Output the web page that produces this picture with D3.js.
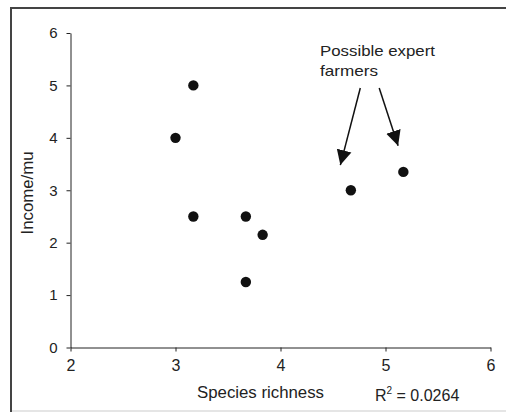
<!DOCTYPE html>
<html lang="en">
<head>
<meta charset="utf-8">
<title>Income vs species richness</title>
<script src="https://cdn.jsdelivr.net/npm/d3@7"></script>
<style>
  body { margin: 0; background: #fff; }
  svg { display: block; font-family: Arial, "Liberation Sans", sans-serif; }
  .domain, .tick line { stroke: #222; }
  .xax .tick text { font-size: 16px; fill: #222; font-family: Arial, "Liberation Sans", sans-serif; }
  .yax .tick text { font-size: 15px; fill: #222; font-family: Arial, "Liberation Sans", sans-serif; }
</style>
</head>
<body>
<script>
// data
var richness = [3.0, 3.17, 3.17, 3.67, 3.83, 3.67, 4.67, 5.17];
var income   = [4.0, 5.0, 2.5, 2.5, 2.15, 1.25, 3.0, 3.35];
var xTicks = [2, 3, 4, 5, 6];
var yTicks = [0, 1, 2, 3, 4, 5, 6];
// arrows pointing at the two "expert" farmers, in data units
var arrowFrom = [[4.76, 4.95], [4.94, 4.95]];
var arrowTo   = [[4.57, 3.48], [5.12, 3.85]];

var w = 506, h = 412;

var svg = d3.select("body").append("svg")
    .attr("width", w)
    .attr("height", h);

// outer frame (left + top dark, bottom light)
svg.append("line").attr("x1", 11).attr("y1", 8).attr("x2", 11).attr("y2", h)
    .attr("stroke", "#444").attr("stroke-width", 2);
svg.append("line").attr("x1", 10).attr("y1", 8).attr("x2", w).attr("y2", 8)
    .attr("stroke", "#444").attr("stroke-width", 2);
svg.append("line").attr("x1", 12).attr("y1", 411).attr("x2", w).attr("y2", 411)
    .attr("stroke", "#ccc").attr("stroke-width", 1.2);

var x = d3.scaleLinear().domain([2, 6]).range([70.5, 490.5]);
var y = d3.scaleLinear().domain([0, 6]).range([347.5, 33]);

svg.append("g")
    .attr("class", "xax")
    .attr("transform", "translate(0," + y(0) + ")")
    .call(d3.axisBottom(x).tickValues(xTicks).tickFormat(d3.format("d"))
        .tickSize(4).tickPadding(8).tickSizeOuter(0));

svg.append("g")
    .attr("class", "yax")
    .attr("transform", "translate(" + x(2) + ",0)")
    .call(d3.axisLeft(y).tickValues(yTicks).tickFormat(d3.format("d"))
        .tickSize(4).tickPadding(9).tickSizeOuter(0));

svg.selectAll("circle.pt")
    .data(richness)
    .enter()
    .append("circle")
    .attr("class", "pt")
    .attr("cx", d => x(d))
    .attr("cy", (d, i) => y(income[i]))
    .attr("r", 5.2)
    .attr("fill", "#111");

// axis titles
svg.append("text")
    .attr("x", 197).attr("y", 398)
    .attr("font-size", "16px").attr("fill", "#222")
    .attr("textLength", 127).attr("lengthAdjust", "spacingAndGlyphs")
    .text("Species richness");

svg.append("text")
    .attr("transform", "translate(32.5,193) rotate(-90)")
    .attr("text-anchor", "middle")
    .attr("font-size", "16px").attr("fill", "#222")
    .attr("textLength", 83).attr("lengthAdjust", "spacingAndGlyphs")
    .text("Income/mu");

var r2 = svg.append("text")
    .attr("x", 375).attr("y", 401)
    .attr("font-size", "16px").attr("fill", "#222");
r2.append("tspan").text("R");
r2.append("tspan").attr("dy", -7).attr("font-size", "10px").text("2");
r2.append("tspan").attr("dy", 7).text(" = 0.0264");

// annotation
var note = svg.append("g").attr("fill", "#222").attr("font-size", "15px");
note.append("text").attr("x", 320).attr("y", 56)
    .attr("textLength", 115).attr("lengthAdjust", "spacingAndGlyphs")
    .text("Possible expert");
note.append("text").attr("x", 320).attr("y", 76)
    .attr("textLength", 58).attr("lengthAdjust", "spacingAndGlyphs")
    .text("farmers");

svg.append("defs").append("marker")
    .attr("id", "head")
    .attr("viewBox", "0 0 10 10")
    .attr("refX", 10).attr("refY", 5)
    .attr("markerUnits", "userSpaceOnUse")
    .attr("markerWidth", 15).attr("markerHeight", 16)
    .attr("orient", "auto")
    .append("path")
    .attr("d", "M0,0 L10,5 L0,10 Z")
    .attr("fill", "#111");

svg.selectAll("line.arrow")
    .data(arrowFrom)
    .enter()
    .append("line")
    .attr("class", "arrow")
    .attr("x1", d => x(d[0]))
    .attr("y1", d => y(d[1]))
    .attr("x2", (d, i) => x(arrowTo[i][0]))
    .attr("y2", (d, i) => y(arrowTo[i][1]))
    .attr("stroke", "#111")
    .attr("stroke-width", 1.5)
    .attr("marker-end", "url(#head)");
</script>
</body>
</html>
